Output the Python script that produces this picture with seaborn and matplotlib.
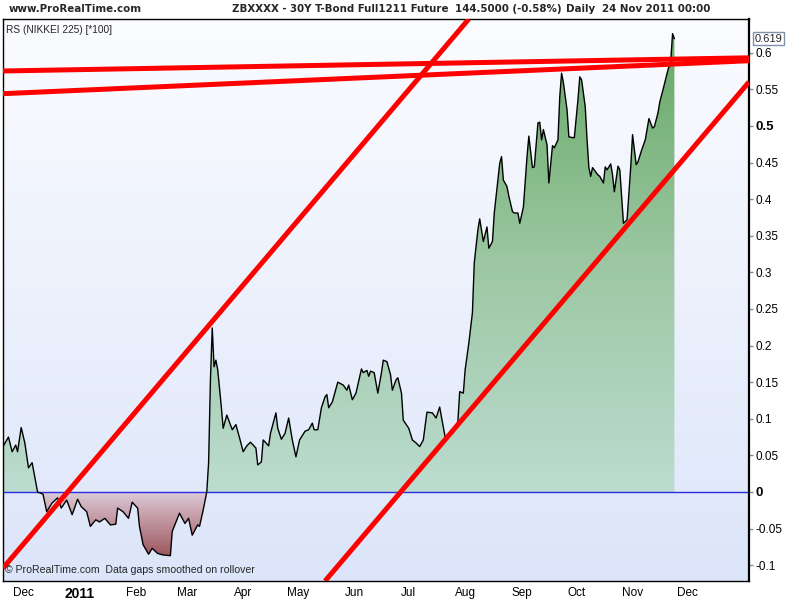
import matplotlib
matplotlib.use("Agg")
import matplotlib.pyplot as plt
import matplotlib.dates as mdates
from matplotlib import font_manager
from matplotlib.path import Path
from matplotlib.colors import LinearSegmentedColormap
import numpy as np
import pandas as pd
import seaborn as sns

# RS (NIKKEI 225) [*100]
datas = [
    "2010-11-20", "2010-11-23", "2010-11-25", "2010-11-27", "2010-11-28", "2010-11-30",
    "2010-12-02", "2010-12-04", "2010-12-06", "2010-12-09", "2010-12-12", "2010-12-14",
    "2010-12-17", "2010-12-20", "2010-12-22", "2010-12-25", "2010-12-28", "2010-12-31",
    "2011-01-02", "2011-01-05", "2011-01-07", "2011-01-10", "2011-01-12", "2011-01-15",
    "2011-01-18", "2011-01-21", "2011-01-22", "2011-01-25", "2011-01-28", "2011-01-30",
    "2011-02-02", "2011-02-03", "2011-02-05", "2011-02-08", "2011-02-10", "2011-02-13",
    "2011-02-16", "2011-02-20", "2011-02-21", "2011-02-25", "2011-02-28",
    "2011-03-02", "2011-03-04", "2011-03-07", "2011-03-08", "2011-03-10", "2011-03-12",
    "2011-03-13", "2011-03-14", "2011-03-15", "2011-03-16", "2011-03-17", "2011-03-18",
    "2011-03-20", "2011-03-21", "2011-03-23", "2011-03-26", "2011-03-28", "2011-03-30",
    "2011-04-01", "2011-04-03", "2011-04-05", "2011-04-08", "2011-04-09", "2011-04-11",
    "2011-04-12", "2011-04-15", "2011-04-16", "2011-04-19", "2011-04-20", "2011-04-22",
    "2011-04-24", "2011-04-26", "2011-04-28", "2011-04-30",
    "2011-05-02", "2011-05-05", "2011-05-07", "2011-05-09", "2011-05-10", "2011-05-12",
    "2011-05-14", "2011-05-16", "2011-05-17", "2011-05-18", "2011-05-20", "2011-05-23",
    "2011-05-26", "2011-05-28", "2011-05-29", "2011-05-31",
    "2011-06-02", "2011-06-05", "2011-06-06", "2011-06-08", "2011-06-09", "2011-06-10",
    "2011-06-12", "2011-06-14", "2011-06-16", "2011-06-17", "2011-06-19", "2011-06-21",
    "2011-06-22", "2011-06-24", "2011-06-25", "2011-06-27", "2011-06-28",
    "2011-07-01", "2011-07-03", "2011-07-05", "2011-07-07", "2011-07-09", "2011-07-11",
    "2011-07-14", "2011-07-16", "2011-07-18", "2011-07-19", "2011-07-21", "2011-07-25",
    "2011-07-28", "2011-07-29", "2011-07-31",
    "2011-08-01", "2011-08-03", "2011-08-05", "2011-08-06", "2011-08-08", "2011-08-09",
    "2011-08-11", "2011-08-13", "2011-08-14", "2011-08-16", "2011-08-17", "2011-08-19",
    "2011-08-20", "2011-08-21", "2011-08-22", "2011-08-24", "2011-08-25", "2011-08-27",
    "2011-08-28", "2011-08-30", "2011-08-31",
    "2011-09-02", "2011-09-04", "2011-09-05", "2011-09-07", "2011-09-08", "2011-09-10",
    "2011-09-11", "2011-09-12", "2011-09-13", "2011-09-15", "2011-09-16", "2011-09-18",
    "2011-09-19", "2011-09-21", "2011-09-22", "2011-09-23", "2011-09-24", "2011-09-26",
    "2011-09-27", "2011-09-29", "2011-09-30",
    "2011-10-02", "2011-10-03", "2011-10-04", "2011-10-06", "2011-10-07", "2011-10-08",
    "2011-10-09", "2011-10-10", "2011-10-13", "2011-10-14", "2011-10-16", "2011-10-17",
    "2011-10-18", "2011-10-20", "2011-10-21", "2011-10-22", "2011-10-24", "2011-10-25",
    "2011-10-27", "2011-10-29", "2011-10-31",
    "2011-11-01", "2011-11-03", "2011-11-04", "2011-11-06", "2011-11-08", "2011-11-10",
    "2011-11-12", "2011-11-13", "2011-11-15", "2011-11-16", "2011-11-18", "2011-11-20",
    "2011-11-22", "2011-11-23", "2011-11-24",
]
rs = [
    0.062, 0.075, 0.055, 0.064, 0.055, 0.088,
    0.067, 0.033, 0.040, 0.000, -0.003, -0.027,
    -0.015, -0.008, -0.022, -0.011, -0.031, -0.010,
    -0.020, -0.027, -0.047, -0.038, -0.041, -0.036,
    -0.045, -0.044, -0.022, -0.027, -0.036, -0.014,
    -0.022, -0.047, -0.072, -0.085, -0.077, -0.084,
    -0.086, -0.087, -0.054, -0.029, -0.043,
    -0.036, -0.059, -0.045, -0.047, -0.025, 0.000,
    0.040, 0.153, 0.224, 0.171, 0.180, 0.167,
    0.116, 0.087, 0.105, 0.085, 0.092, 0.074,
    0.055, 0.063, 0.068, 0.060, 0.037, 0.041,
    0.071, 0.063, 0.080, 0.108, 0.087, 0.072,
    0.080, 0.101, 0.071, 0.048,
    0.071, 0.083, 0.085, 0.094, 0.085, 0.085,
    0.115, 0.130, 0.133, 0.115, 0.123, 0.150,
    0.146, 0.139, 0.146, 0.126,
    0.135, 0.168, 0.163, 0.166, 0.158, 0.165,
    0.163, 0.135, 0.163, 0.180, 0.178, 0.160,
    0.139, 0.153, 0.156, 0.135, 0.098,
    0.087, 0.071, 0.067, 0.062, 0.071, 0.109,
    0.108, 0.101, 0.116, 0.102, 0.075, 0.080,
    0.096, 0.137, 0.135,
    0.167, 0.203, 0.245, 0.313, 0.358, 0.373,
    0.342, 0.362, 0.333, 0.342, 0.381, 0.426,
    0.449, 0.458, 0.426, 0.417, 0.404, 0.383,
    0.381, 0.381, 0.367,
    0.389, 0.458, 0.486, 0.443, 0.444, 0.504,
    0.505, 0.481, 0.495, 0.474, 0.422, 0.473,
    0.470, 0.481, 0.540, 0.572, 0.559, 0.522,
    0.485, 0.484, 0.484,
    0.536, 0.567, 0.563, 0.526, 0.481, 0.443,
    0.431, 0.443, 0.433, 0.431, 0.422, 0.444,
    0.440, 0.448, 0.433, 0.410, 0.445, 0.440,
    0.367, 0.372, 0.444,
    0.488, 0.447, 0.451, 0.467, 0.481, 0.510,
    0.497, 0.499, 0.518, 0.533, 0.552, 0.572,
    0.590, 0.626, 0.619,
]

# linhas de tendência desenhadas à mão (início / fim)
tend_data_ini = ["2010-11-20", "2011-05-16", "2010-11-20", "2010-11-20"]
tend_data_fim = ["2011-08-03", "2012-01-04", "2012-01-04", "2012-01-04"]
tend_val_ini = [-0.104, -0.1216, 0.575, 0.544]
tend_val_fim = [0.646, 0.560, 0.593, 0.589]

meses = ["2010-12-01", "2011-01-01", "2011-02-01", "2011-03-01", "2011-04-01",
         "2011-05-01", "2011-06-01", "2011-07-01", "2011-08-01", "2011-09-01",
         "2011-10-01", "2011-11-01", "2011-12-01"]
meses_rotulos = ["Dec", "2011", "Feb", "Mar", "Apr", "May", "Jun", "Jul",
                 "Aug", "Sep", "Oct", "Nov", "Dec"]
y_ticks = [-0.1, -0.05, 0, 0.05, 0.1, 0.15, 0.2, 0.25, 0.3, 0.35, 0.4, 0.45, 0.5, 0.55, 0.6]
y_rotulos = ["-0.1", "-0.05", "0", "0.05", "0.1", "0.15", "0.2", "0.25", "0.3",
             "0.35", "0.4", "0.45", "0.5", "0.55", "0.6"]

sns.set_style("white")
plt.rcParams["font.family"] = ["Liberation Sans", "DejaVu Sans"]

df = pd.DataFrame({"data": pd.to_datetime(datas), "rs": rs})
x = mdates.date2num(df["data"])
v = df["rs"].to_numpy()

xmin = mdates.date2num(pd.Timestamp("2010-11-20"))
xmax = mdates.date2num(pd.Timestamp("2012-01-04"))
ymin, ymax = -0.1216, 0.646

fig = plt.figure(figsize=(8, 6), dpi=100)
ax = fig.add_axes([3 / 800, 1 - 581 / 600, 746 / 800, 562 / 600])

# fundo em degradê
grad = np.linspace(0, 1, 256).reshape(-1, 1)
fundo = LinearSegmentedColormap.from_list("fundo", ["#dce5f9", "#fbfcff"])
ax.imshow(grad, extent=[xmin, xmax, ymin, ymax], aspect="auto", origin="lower",
          cmap=fundo, zorder=0)

# preenchimentos com degradê (positivo verde, negativo vinho)
verde = LinearSegmentedColormap.from_list("verde", ["#bcdcd0", "#9cc7a2", "#66a866"])
vinho = LinearSegmentedColormap.from_list("vinho", ["#9c5258", "#dccad8"])

pos = ax.fill_between(x, v, 0, where=v >= 0, interpolate=True, facecolor="none", edgecolor="none")
neg = ax.fill_between(x, v, 0, where=v <= 0, interpolate=True, facecolor="none", edgecolor="none")

img_pos = ax.imshow(grad, extent=[xmin, xmax, 0, 0.63], aspect="auto", origin="lower",
                    cmap=verde, zorder=1)
img_pos.set_clip_path(Path.make_compound_path(*pos.get_paths()), ax.transData)
img_neg = ax.imshow(grad, extent=[xmin, xmax, -0.09, 0], aspect="auto", origin="lower",
                    cmap=vinho, zorder=1)
img_neg.set_clip_path(Path.make_compound_path(*neg.get_paths()), ax.transData)

sns.lineplot(data=df, x="data", y="rs", color="black", lw=1, ax=ax, zorder=3)
ax.axhline(0, color="#2d2de0", lw=1, zorder=2)

for d0, d1, v0, v1 in zip(tend_data_ini, tend_data_fim, tend_val_ini, tend_val_fim):
    ax.plot(pd.to_datetime([d0, d1]), [v0, v1], color="#ff0000", lw=3.6,
            solid_capstyle="butt", zorder=4)

ax.set_xlim(xmin, xmax)
ax.set_ylim(ymin, ymax)
ax.set_xlabel("")
ax.set_ylabel("")

ax.yaxis.tick_right()
ax.set_yticks(y_ticks)
ax.set_yticklabels(y_rotulos)
ax.set_xticks(mdates.date2num(pd.to_datetime(meses)))
ax.set_xticklabels(meses_rotulos)
ax.tick_params(axis="both", direction="out", length=3, width=1, color="#7f8fa0",
               labelsize=8.5, labelcolor="black")
ax.tick_params(axis="y", pad=1.5, left=False, right=True)
ax.tick_params(axis="x", pad=1.5)
for t in ax.get_yticklabels():
    if t.get_text() in ("0", "0.5"):
        t.set_fontweight("bold")
        t.set_fontsize(9.5)
for t in ax.get_xticklabels():
    if t.get_text() == "2011":
        t.set_fontweight("bold")
        t.set_fontsize(10)

for lado in ax.spines.values():
    lado.set_visible(True)
    lado.set_color("black")
    lado.set_linewidth(1)
ax.spines["right"].set_linewidth(1.6)

# textos
ax.text(0.004, 0.99, "RS (NIKKEI 225) [*100]", transform=ax.transAxes, fontsize=7.3,
        ha="left", va="top")
ax.text(0.003, 0.011, "\u00a9 ProRealTime.com  Data gaps smoothed on rollover",
        transform=ax.transAxes, fontsize=7.6, ha="left", va="bottom", zorder=5)
ax.annotate("0.619", xy=(1, v[-1]), xycoords=("axes fraction", "data"),
            xytext=(4, 0), textcoords="offset points", fontsize=8, ha="left", va="center",
            bbox=dict(boxstyle="square,pad=0.15", fc="white", ec="#8090a8", lw=1),
            annotation_clip=False)

# cabeçalho: fonte condensada se existir, senão Liberation menor
cond = font_manager.findfont(font_manager.FontProperties(family="DejaVu Sans",
                                                         stretch="condensed", weight="bold"))
if "Condensed" in cond:
    cab = dict(family="DejaVu Sans", fontstretch="condensed", fontsize=8.2)
else:
    cab = dict(family="Liberation Sans", fontsize=8)
for xpix, texto in [(9, "www.ProRealTime.com"),
                    (232, "ZBXXXX - 30Y T-Bond Full1211 Future"),
                    (455, "144.5000 (-0.58%)"),
                    (566, "Daily  24 Nov 2011 00:00")]:
    fig.text(xpix / 800, 1 - 9 / 600, texto, fontweight="bold", ha="left", va="center", **cab)

fig.savefig("out.png", dpi=100, facecolor="white")
plt.close(fig)
